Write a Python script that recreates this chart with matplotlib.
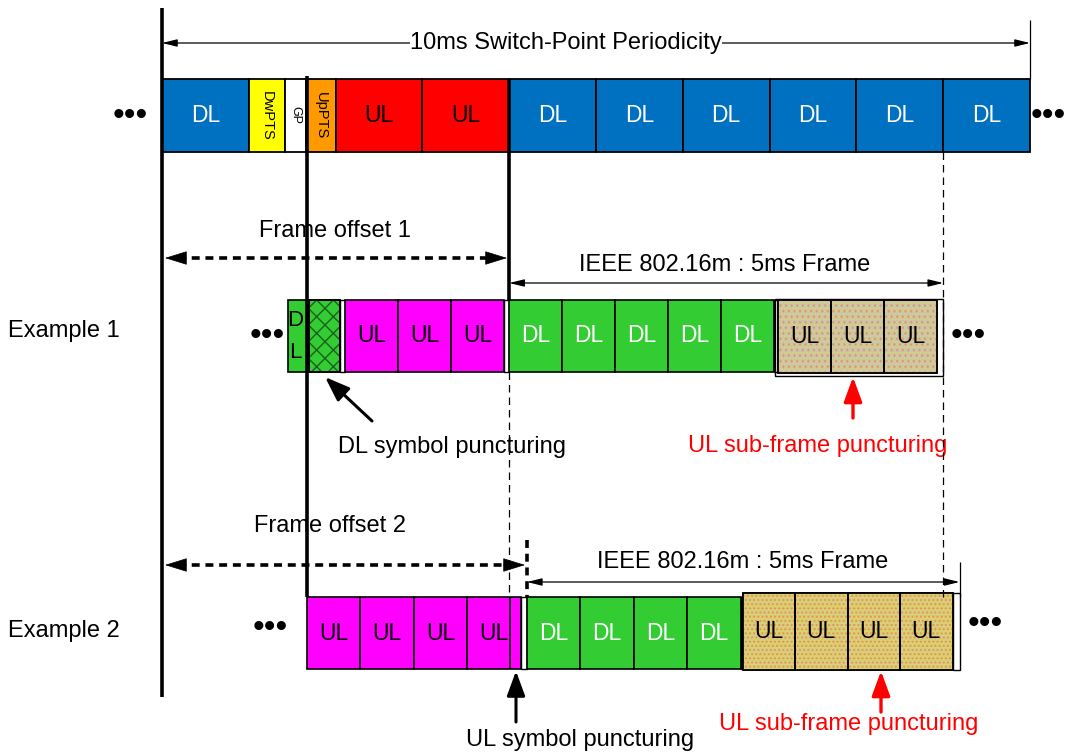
import matplotlib
matplotlib.use('Agg')
import matplotlib.pyplot as plt
from matplotlib.patches import Rectangle

plt.rcParams['font.family'] = ['Liberation Sans', 'DejaVu Sans']
plt.rcParams['hatch.linewidth'] = 1.0

# ---------------- data (durations in ms) ----------------
# LTE TDD 10 ms switch-point periodicity frame
top_labels = ['DL', 'DwPTS', 'GP', 'UpPTS', 'UL', 'UL', 'DL', 'DL', 'DL', 'DL', 'DL', 'DL']
top_durations = [1.0, 0.42, 0.24, 0.34, 1.0, 1.0, 1.0, 1.0, 1.0, 1.0, 1.0, 1.0]

# Example 1 (IEEE 802.16m frame, offset 1)
ex1_start = 1.452
ex1_kinds = ['DLpart', 'DLpunct', 'gap', 'UL', 'UL', 'UL', 'gap',
             'DL', 'DL', 'DL', 'DL', 'DL', 'gap', 'ULp', 'ULp', 'ULp']
ex1_durations = [0.24, 0.36, 0.06, 0.61, 0.61, 0.61, 0.06,
                 0.61, 0.61, 0.61, 0.61, 0.61, 0.045, 0.61, 0.61, 0.61]
ex1_frame = (4.0, 9.0)

# Example 2 (IEEE 802.16m frame, offset 2)
ex2_start = 1.670
ex2_kinds = ['UL', 'UL', 'UL', 'UL', 'gap', 'DL', 'DL', 'DL', 'DL', 'gap',
             'ULp2', 'ULp2', 'ULp2', 'ULp2', 'tail']
ex2_durations = [0.616, 0.616, 0.616, 0.616, 0.07, 0.616, 0.616, 0.616, 0.616, 0.02,
                 0.605, 0.605, 0.605, 0.605, 0.08]
ex2_frame = (4.204, 9.188)

# ---------------- layout / style ----------------
W, H = 1065, 755
PX_PER_MS = 86.8
X0 = 162


def px(x):
    return (x - X0) / PX_PER_MS


fig = plt.figure(figsize=(W / 100, H / 100), dpi=100)
ax = fig.add_axes([0, 0, 1, 1])
ax.set_xlim(px(0), px(W))
ax.set_ylim(H, 0)
ax.axis('off')

FS = 16.5   # cell labels
TFS = 17    # annotation text

top_style = {
    'DL': ('#0070C0', 'white'),
    'DwPTS': ('#FFFF00', 'black'),
    'GP': ('#FFFFFF', 'black'),
    'UpPTS': ('#FF9900', 'black'),
    'UL': ('#FF0000', 'black'),
}
small_fs = {'DwPTS': 10.5, 'GP': 9, 'UpPTS': 10.5}


def add_cell(t0, dur, y0, y1, face, label='', tcolor='black', fs=FS, rot=0,
             lw=1.2, hatch=None, hcolor=None, hatch2=None, hcolor2=None, z=2):
    r = Rectangle((t0, y0), dur, y1 - y0, facecolor=face,
                  edgecolor='black', lw=lw, zorder=z)
    ax.add_patch(r)
    if hatch:
        ax.add_patch(Rectangle((t0, y0), dur, y1 - y0, facecolor='none',
                               edgecolor=hcolor, hatch=hatch, lw=0, zorder=z + 0.1))
    if hatch2:
        ax.add_patch(Rectangle((t0, y0), dur, y1 - y0, facecolor='none',
                               edgecolor=hcolor2, hatch=hatch2, lw=0, zorder=z + 0.15))
    if hatch or hatch2:
        ax.add_patch(Rectangle((t0, y0), dur, y1 - y0, facecolor='none',
                               edgecolor='black', lw=lw, zorder=z + 0.2))
    if label:
        ax.text(t0 + dur / 2, (y0 + y1) / 2, label, color=tcolor, fontsize=fs,
                rotation=rot, ha='center', va='center', zorder=z + 0.5)
    return r


# ---- top frame ----
TY0, TY1 = 79, 152
t = 0.0
for lab, d in zip(top_labels, top_durations):
    face, tc = top_style[lab]
    if lab in small_fs:
        add_cell(t, d, TY0, TY1, face, lab, tc, fs=small_fs[lab], rot=-90, lw=1.3)
    else:
        add_cell(t, d, TY0, TY1, face, lab, tc, lw=1.3)
    t += d


def draw_row(start, kinds, durs, y0, y1):
    t = start
    cells = {}
    for k, d in zip(kinds, durs):
        if k == 'DLpart':
            r = add_cell(t, d, y0, y1, '#33CC33')
            for lab, yy in (('D', y0 + 20), ('L', y1 - 20)):
                tx = ax.text(px(295), yy, lab, fontsize=16, ha='center',
                             va='center', zorder=3)
                tx.set_clip_path(r)
        elif k == 'DLpunct':
            add_cell(t, d, y0, y1, '#33CC33', hatch='xx', hcolor='#1E5E1E')
        elif k == 'gap':
            add_cell(t, d, y0, y1, 'white', lw=1.0)
        elif k == 'tail':
            add_cell(t, d, y0 - 4, y1 + 1, 'white', lw=1.0)
        elif k == 'UL':
            add_cell(t, d, y0, y1, '#FF00FF', 'UL', 'black')
        elif k == 'DL':
            add_cell(t, d, y0, y1, '#33CC33', 'DL', 'white')
        elif k == 'ULp':
            cells.setdefault('ULp', []).append(t)
            add_cell(t, d, y0, y1 + 1, '#C6C2BA', 'UL', 'black',
                     hatch='......', hcolor=(0.98, 0.90, 0.10, 0.55),
                     hatch2='...', hcolor2=(0.9, 0.35, 0.3, 0.35), z=2.5)
        elif k == 'ULp2':
            cells.setdefault('ULp2', []).append(t)
            add_cell(t, d, y0 - 4, y1 + 1, '#CCC4A4', 'UL', 'black',
                     hatch='.......', hcolor=(1.0, 0.93, 0.0, 0.7),
                     hatch2='....', hcolor2=(0.92, 0.35, 0.25, 0.45), z=2.5)
        t += d
    return cells


# ---- example 1 ----
E1Y0, E1Y1 = 300, 372
c1 = draw_row(ex1_start, ex1_kinds, ex1_durations, E1Y0, E1Y1)
u0 = c1['ULp'][0] - 0.035
ax.add_patch(Rectangle((u0, E1Y0 - 1), ex1_frame[1] - u0, 77, facecolor='none',
                       edgecolor='black', lw=1.0, zorder=4))

# ---- example 2 ----
E2Y0, E2Y1 = 597, 669
c2 = draw_row(ex2_start, ex2_kinds, ex2_durations, E2Y0, E2Y1)

# ---- vertical reference lines ----
ax.vlines(0, 8, 697, color='black', lw=2.6, zorder=6)
ax.vlines(ex2_start, 76, E2Y0, color='black', lw=2.6, zorder=6)
ax.vlines(ex1_frame[0], TY0, E1Y0, color='black', lw=2.6, zorder=6)
ax.vlines(ex1_frame[0], E1Y1, E2Y0 + 3, color='black', lw=0.9,
          linestyles=(0, (6, 4)), zorder=6)
ax.vlines(ex1_frame[0] + 0.01, E2Y0, E2Y1, color='black', lw=1.2, zorder=6)
ax.vlines(ex1_frame[1], TY1, 600, color='black', lw=0.9,
          linestyles=(0, (6, 4)), zorder=6)
ax.vlines(10.0, 20, TY0, color='black', lw=0.9, zorder=6)
ax.vlines(ex2_frame[0], 540, E2Y0, color='black', lw=2.6,
          linestyles=(0, (2.2, 1.6)), zorder=6)
ax.vlines(ex2_frame[1], 562, E2Y0, color='black', lw=0.9, zorder=6)


# ---- arrows ----
def thin_double(x1, x2, y):
    ax.annotate('', xy=(x2, y), xytext=(x1, y),
                arrowprops=dict(arrowstyle='<|-|>,head_length=0.9,head_width=0.22',
                                mutation_scale=10, lw=0.9, color='black',
                                shrinkA=0, shrinkB=0), zorder=5)


def bold_dashed_double(x1, x2, y):
    ax.plot([x1 + 0.15, x2 - 0.15], [y, y], color='black', lw=2.6,
            ls=(0, (2.2, 1.6)), zorder=5)
    for tip, tail in ((x1, x1 + 0.25), (x2, x2 - 0.25)):
        ax.annotate('', xy=(tip, y), xytext=(tail, y),
                    arrowprops=dict(arrowstyle='-|>,head_length=1.45,head_width=0.45',
                                    mutation_scale=10, lw=0.5, color='black',
                                    shrinkA=0, shrinkB=0), zorder=5)


def pointer(tail, tip, color='black', lw=2.2):
    ax.annotate('', xy=tip, xytext=tail,
                arrowprops=dict(arrowstyle='-|>,head_length=1.5,head_width=0.55',
                                mutation_scale=10, lw=lw, color=color,
                                shrinkA=0, shrinkB=0), zorder=7)


thin_double(0.0, 10.0, 43)
ax.text(px(566), 43, '10ms Switch-Point Periodicity', fontsize=TFS, ha='center',
        va='center', zorder=6, bbox=dict(facecolor='white', edgecolor='none', pad=0.3))

bold_dashed_double(px(165), px(507), 258)
ax.text(px(335), 231, 'Frame offset 1', fontsize=TFS, ha='center', va='center')
thin_double(ex1_frame[0], ex1_frame[1], 283)
ax.text(px(725), 265, 'IEEE 802.16m : 5ms Frame', fontsize=TFS, ha='center', va='center')

bold_dashed_double(px(165), px(525), 565)
ax.text(px(330), 526, 'Frame offset 2', fontsize=TFS, ha='center', va='center')
thin_double(ex2_frame[0], ex2_frame[1], 582)
ax.text(px(743), 562, 'IEEE 802.16m : 5ms Frame', fontsize=TFS, ha='center', va='center')

pointer((px(372), 421), (px(325), 377))
ax.text(px(452), 447, 'DL symbol puncturing', fontsize=TFS, ha='center', va='center')
pointer((px(853), 418), (px(853), 377), color='#FF0000', lw=2.4)
ax.text(px(818), 446, 'UL sub-frame puncturing', fontsize=TFS, ha='center',
        va='center', color='#FF0000')

pointer((px(516), 722), (px(516), 671))
ax.text(px(580), 740, 'UL symbol puncturing', fontsize=TFS, ha='center', va='center')
pointer((px(881), 712), (px(881), 671), color='#FF0000', lw=2.4)
ax.text(px(849), 724, 'UL sub-frame puncturing', fontsize=TFS, ha='center',
        va='center', color='#FF0000')

# ---- side labels and ellipses ----
ax.text(px(8), 331, 'Example 1', fontsize=TFS, ha='left', va='center')
ax.text(px(8), 631, 'Example 2', fontsize=TFS, ha='left', va='center')
for xc, yc in ((130, 116), (1048, 116), (267, 336), (968, 336), (270, 628), (985, 624)):
    ax.text(px(xc), yc, '•••', fontsize=24, ha='center', va='center')

fig.savefig('out.png', dpi=100)
